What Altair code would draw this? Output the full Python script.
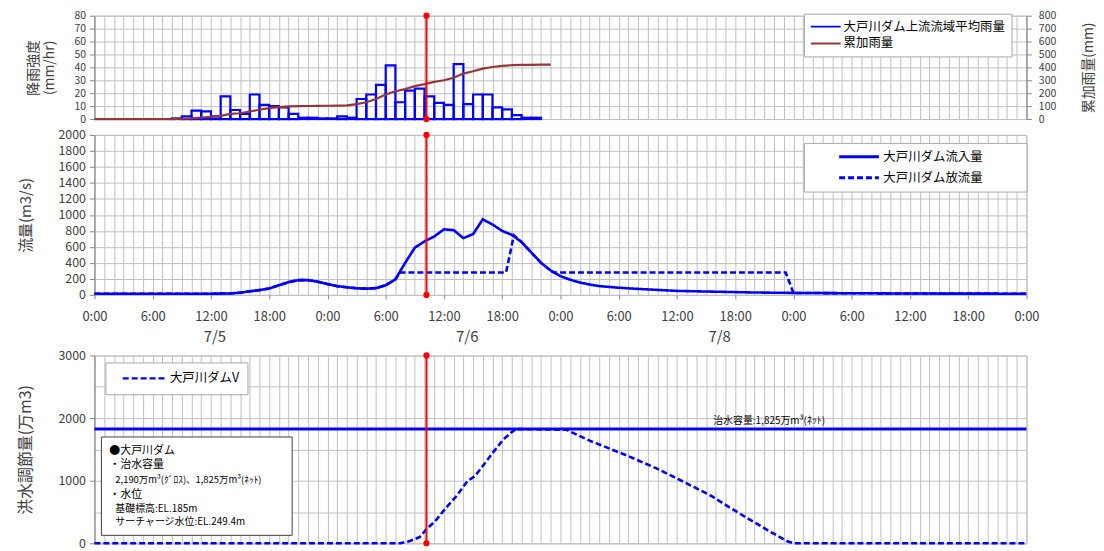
import altair as alt
import pandas as pd

FONT = "Noto Sans CJK JP"
BLUE = "#0000ff"
BROWN = "#953735"
RED = "#ff0000"
GRID = "#c0c0c0"
TXT = "#404040"

# ---------------- data ----------------
rain_name = "大戸川ダム上流流域平均雨量"
cum_name = "累加雨量"
rain_start_hours = list(range(8, 46))
rain_mm = [0.5, 2, 6.5, 6, 2, 17.5, 7, 4, 19, 11, 10, 9, 4, 1, 1, 0.5, 0.5, 2, 1, 15.5,
           19, 26.5, 41.5, 13, 22, 23.5, 17.5, 12.5, 11, 42.5, 11.5, 19, 19, 9, 7.5, 3, 1, 1]
cum_hours = [0, 8, 9, 10, 11, 12, 13, 14, 15, 16, 17, 18, 19, 20, 21, 22, 23, 24, 25, 26,
             27, 28, 29, 30, 31, 32, 33, 34, 35, 36, 37, 38, 39, 40, 41, 42, 43, 44, 45, 46, 47]
cum_mm = [0, 0, 2, 5, 12, 17, 25, 40, 45, 58, 72, 85, 92, 98, 100, 101, 102, 103, 104, 106,
          115, 130, 155, 190, 215, 232, 255, 270, 288, 300, 320, 352, 370, 390, 403, 411, 417, 419, 420, 421, 421]

in_name = "大戸川ダム流入量"
out_name = "大戸川ダム放流量"
inflow_hours = [0, 6, 12, 14, 15, 16, 17, 18, 19, 20, 21, 22, 23, 24, 25, 26, 27, 28, 29, 30,
                31, 32, 33, 34, 35, 36, 37, 38, 39, 40, 41, 42, 43, 44, 45, 46, 47, 48, 49, 50,
                51, 52, 54, 56, 60, 64, 68, 72, 76, 80, 84, 96]
inflow = [15, 15, 15, 18, 28, 45, 60, 80, 120, 160, 185, 185, 165, 135, 110, 95, 83, 78, 85, 120,
          195, 400, 590, 670, 730, 820, 810, 710, 760, 945, 880, 800, 750, 660, 530, 400, 305, 235, 190, 155,
          130, 110, 90, 75, 50, 40, 30, 25, 22, 20, 17, 15]
outflow_hours = [0, 6, 12, 14, 15, 16, 17, 18, 19, 20, 21, 22, 23, 24, 25, 26, 27, 28, 29, 30,
                 31, 31.5, 42.4, 43.2, 44, 45, 46, 47, 47.3, 71.2, 72, 76, 80, 84, 96]
outflow = [15, 15, 15, 18, 28, 45, 60, 80, 120, 160, 185, 185, 165, 135, 110, 95, 83, 78, 85, 120,
           195, 280, 280, 745, 660, 530, 400, 305, 280, 280, 25, 22, 20, 17, 15]

v_name = "大戸川ダムV"
v_hours = [0, 31.5, 32.5, 33.5, 34.2, 35.1, 36.2, 37.3, 38.4, 39.2, 40.1, 41.0, 42.1, 42.9, 43.4,
           48.6, 51, 54.8, 58, 61, 63.5, 65.8, 67.5, 69.5, 71.3, 72, 96]
v_vals = [0, 0, 37, 100, 225, 355, 565, 755, 990, 1075, 1255, 1440, 1655, 1765, 1825,
          1815, 1640, 1405, 1190, 958, 760, 537, 380, 195, 37, 0, 0]

capacity_net = [1825]
capacity_text = ["治水容量:1,825万m³(ﾈｯﾄ)"]
capacity_text_hour = [69.5]
now_hour = [34.2]

x_grid_hours = list(range(0, 97))
date_labels = ["7/5", "7/6", "7/8"]
date_label_hours = [12.4, 38.4, 64.4]

note_lines = ["●大戸川ダム", "・治水容量", "2,190万m³(ｸﾞﾛｽ)、1,825万m³(ﾈｯﾄ)", "・水位",
              "基礎標高:EL.185m", "サーチャージ水位:EL.249.4m"]

# ---------------- layout ----------------
W = 938
H1, H2, H3 = 104, 161, 189
XS = alt.Scale(domain=[0, 96], nice=False, zero=False)

six_tick = {"condition": {"test": "datum.value % 6 === 0", "value": 1}, "value": 0}
plain_x_axis = alt.Axis(values=x_grid_hours, grid=True, domain=False, labels=False, ticks=False, title=None)
mid_x_axis = alt.Axis(values=x_grid_hours, grid=True, domain=False, title=None,
                      labelExpr="datum.value % 6 === 0 ? (datum.value % 24) + ':00' : ''",
                      labelOverlap=False, labelFlush=False, labelFontSize=13, tickSize=4,
                      tickOpacity=six_tick, labelPadding=12)


def red_marks(ymax, xaxis, yaxis):
    rule = alt.Chart(pd.DataFrame({"t": now_hour})).mark_rule(color=RED, strokeWidth=2).encode(
        x=alt.X("t:Q", scale=XS, axis=xaxis))
    dots = alt.Chart(pd.DataFrame({"t": now_hour * 2, "v": [0, ymax]})).mark_point(
        filled=True, color=RED, size=40, opacity=1).encode(
        x=alt.X("t:Q", scale=XS, axis=xaxis),
        y=alt.Y("v:Q", scale=alt.Scale(domain=[0, ymax], nice=False), axis=yaxis))
    return rule, dots


# ---------------- top panel ----------------
df_rain = pd.DataFrame({"start": rain_start_hours, "end": [h + 1 for h in rain_start_hours],
                        "mm": rain_mm, "s": rain_name})
df_cum = pd.DataFrame({"h": cum_hours, "c": cum_mm, "s": cum_name})
color_scale = alt.Scale(domain=[rain_name, cum_name], range=[BLUE, BROWN])
top_legend = alt.Legend(title=None, orient="none", legendX=714, legendY=-2, symbolType="stroke",
                        symbolSize=900, symbolStrokeWidth=2, clipHeight=14, labelFont=FONT,
                        labelFontSize=12.5, labelColor="#000", fillColor="white", strokeColor="#a6a6a6",
                        padding=6, rowPadding=3, labelOffset=2, labelLimit=400)
top_y_axis = alt.Axis(values=list(range(0, 81, 10)), title=["降雨強度", "(mm/hr)"], titleAngle=270,
                      titleX=-61, titleBaseline="middle", titleFontSize=14, titleLineHeight=16,
                      format="d", labelFontSize=10.5)
bars = alt.Chart(df_rain).mark_bar(filled=False, strokeWidth=2.2).encode(
    x=alt.X("start:Q", scale=XS, axis=plain_x_axis),
    x2="end:Q",
    y=alt.Y("mm:Q", scale=alt.Scale(domain=[0, 80], nice=False), axis=top_y_axis),
    y2=alt.datum(0),
    color=alt.Color("s:N", scale=color_scale, legend=top_legend),
)
cum_line = alt.Chart(df_cum).mark_line(strokeWidth=2.2).encode(
    x=alt.X("h:Q", scale=XS, axis=plain_x_axis),
    y=alt.Y("c:Q", scale=alt.Scale(domain=[0, 800], nice=False),
            axis=alt.Axis(orient="right", values=list(range(0, 801, 100)), grid=False,
                          title="累加雨量(mm)", titleAngle=270, titleX=62, titleBaseline="middle",
                          titleFontSize=14, labelPadding=7, format="d", labelFontSize=10.5)),
    color=alt.Color("s:N", scale=color_scale, legend=top_legend),
)
r1, d1 = red_marks(80, plain_x_axis, None)
top = alt.layer(bars, cum_line, r1, d1).resolve_scale(y="independent").properties(width=W, height=H1)

# ---------------- middle panel ----------------
df_flow = pd.concat([
    pd.DataFrame({"h": inflow_hours, "q": inflow, "s": in_name}),
    pd.DataFrame({"h": outflow_hours, "q": outflow, "s": out_name}),
])
YS2 = alt.Scale(domain=[0, 2000], nice=False)
mid_y_axis = alt.Axis(values=list(range(0, 2001, 200)), title="流量(m3/s)", titleAngle=270,
                      titleX=-69, titleBaseline="middle", titleFontSize=15, format="d")
mid_legend = alt.Legend(title=None, orient="none", legendX=714, legendY=8, symbolType="stroke",
                        symbolSize=1600, symbolStrokeWidth=3, symbolStrokeColor=BLUE, clipHeight=16,
                        labelFont=FONT, labelFontSize=12.5, labelColor="#000", fillColor="white",
                        strokeColor="#a6a6a6", padding=6, rowPadding=5, symbolOffset=28, labelOffset=3,
                        labelLimit=400,
                        labelExpr="datum.label + '\u3000\u3000\u3000\u200b'")
flows = alt.Chart(df_flow).mark_line(color=BLUE, strokeWidth=2.6).encode(
    x=alt.X("h:Q", scale=XS, axis=mid_x_axis),
    y=alt.Y("q:Q", scale=YS2, axis=mid_y_axis),
    strokeDash=alt.StrokeDash("s:N", scale=alt.Scale(domain=[in_name, out_name], range=[[1, 0], [6, 3]]),
                              legend=mid_legend),
)
df_dates = pd.DataFrame({"h": date_label_hours, "lab": date_labels})
dates = alt.Chart(df_dates).mark_text(font=FONT, fontSize=15, color=TXT, baseline="middle").encode(
    x=alt.X("h:Q", scale=XS, axis=mid_x_axis),
    y=alt.value(H2 + 42),
    text="lab:N",
)
r2, d2 = red_marks(2000, mid_x_axis, mid_y_axis)
mid = alt.layer(flows, dates, r2, d2).properties(width=W, height=H2)

# ---------------- bottom panel ----------------
YS3 = alt.Scale(domain=[0, 3000], nice=False)
bot_y_axis = alt.Axis(values=list(range(0, 3001, 500)), title="洪水調節量(万m3)", titleAngle=270,
                      titleX=-69, titleBaseline="middle", titleFontSize=16, format="d",
                      labelExpr="datum.value % 1000 === 0 ? datum.label : ''",
                      tickOpacity={"condition": {"test": "datum.value % 1000 === 0", "value": 1}, "value": 0})
bot_legend = alt.Legend(title=None, orient="none", legendX=11, legendY=7, symbolType="stroke",
                        symbolSize=1850, symbolStrokeWidth=2.5, symbolStrokeColor=BLUE, clipHeight=16,
                        labelFont=FONT, labelFontSize=12.5, labelColor="#000", fillColor="white",
                        strokeColor="#a6a6a6", padding=8, symbolOffset=8, labelOffset=3)
df_v = pd.DataFrame({"h": v_hours, "v": v_vals, "s": v_name})
cap_rule = alt.Chart(pd.DataFrame({"v": capacity_net})).mark_rule(color=BLUE, strokeWidth=3).encode(
    y=alt.Y("v:Q", scale=YS3, axis=bot_y_axis))
cap_text = alt.Chart(pd.DataFrame({"h": capacity_text_hour, "v": capacity_net, "t": capacity_text})).mark_text(
    font=FONT, fontSize=10, color="#000", dy=-8).encode(
    x=alt.X("h:Q", scale=XS, axis=plain_x_axis),
    y=alt.Y("v:Q", scale=YS3, axis=bot_y_axis),
    text="t:N")
v_line = alt.Chart(df_v).mark_line(color=BLUE, strokeWidth=2.6).encode(
    x=alt.X("h:Q", scale=XS, axis=plain_x_axis),
    y=alt.Y("v:Q", scale=YS3, axis=bot_y_axis),
    strokeDash=alt.StrokeDash("s:N", scale=alt.Scale(domain=[v_name], range=[[6, 3]]), legend=bot_legend),
)
note_box = alt.Chart(pd.DataFrame({"k": [0]})).mark_rect(fill="white", stroke="#404040", strokeWidth=1).encode(
    x=alt.value(7), x2=alt.value(199), y=alt.value(82), y2=alt.value(181))
note_pos = [(15, 96, 11), (15, 110, 11), (21, 125, 9.5), (15, 140, 11), (21, 154, 10), (21, 168, 10)]
note_layers = []
for line, (px, py, fs) in zip(note_lines, note_pos):
    note_layers.append(
        alt.Chart(pd.DataFrame({"t": [line]})).mark_text(
            font=FONT, fontSize=fs, color="#000", align="left", baseline="middle").encode(
            x=alt.value(px), y=alt.value(py), text="t:N"))
r3, d3 = red_marks(3000, plain_x_axis, bot_y_axis)
bot = alt.layer(cap_rule, v_line, cap_text, note_box, *note_layers, r3, d3).properties(width=W, height=H3)

chart = alt.vconcat(top, mid, bot, spacing=3).resolve_scale(
    color="independent", strokeDash="independent", x="independent", y="independent"
).resolve_legend(color="independent", strokeDash="independent").properties(
    padding={"left": 9, "top": 0, "right": 0, "bottom": 0}, background="white"
).configure_view(stroke=GRID).configure_axis(
    labelFont=FONT, titleFont=FONT, labelColor=TXT, titleColor=TXT, labelFontSize=12.5,
    titleFontWeight="normal", gridColor=GRID, gridWidth=1, domainColor="#868686",
    tickColor="#868686", tickSize=5, labelPadding=4
)

chart.save("out.html", embed_options={"renderer": "svg", "actions": False})
